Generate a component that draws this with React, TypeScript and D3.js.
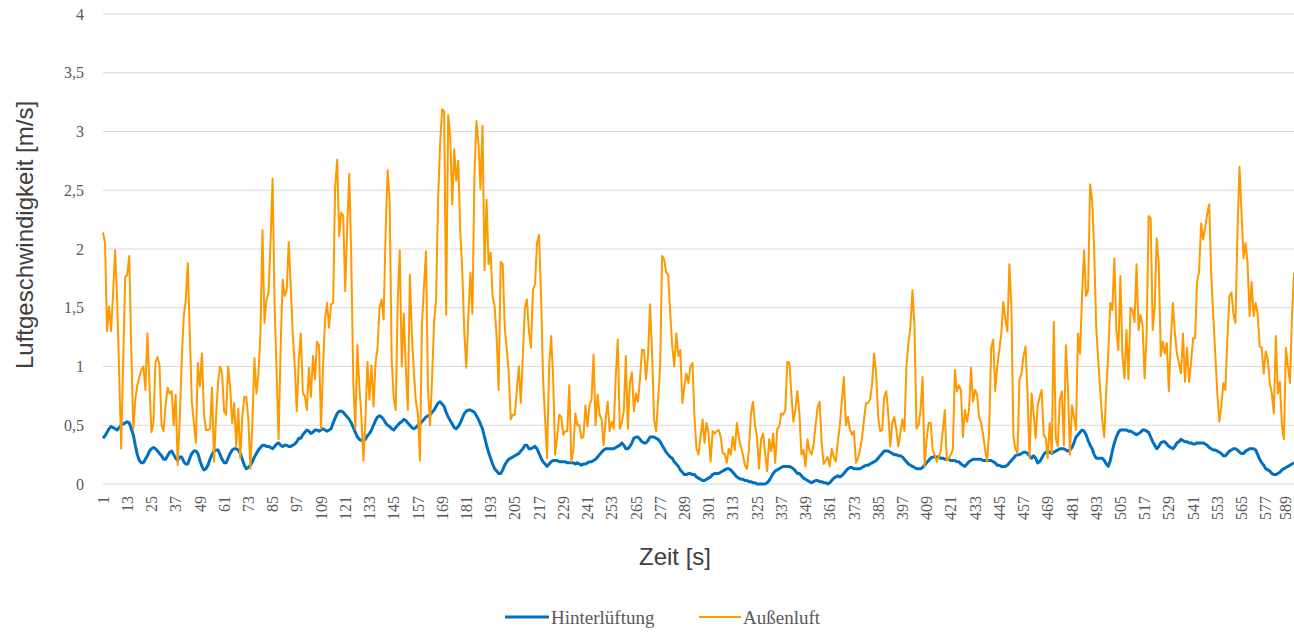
import React from "react";
import * as d3 from "d3";

const orange: number[] = [
2.14,2.05,1.30,1.51,1.30,1.62,1.99,1.57,0.95,0.30,
1.05,1.76,1.78,1.94,1.15,0.47,0.72,0.84,0.91,0.97,
1.00,0.80,1.28,0.85,0.44,0.52,1.04,1.08,1.01,0.50,
0.45,0.66,0.82,0.77,0.79,0.50,0.76,0.16,0.55,1.05,
1.43,1.57,1.88,1.28,0.70,0.52,0.35,1.03,0.83,1.11,
0.60,0.46,0.46,0.47,0.82,0.19,0.57,0.87,1.00,0.94,
0.62,0.59,1.00,0.82,0.52,0.69,0.32,0.64,0.22,0.57,
0.74,0.74,0.55,0.13,0.52,1.07,0.77,0.94,1.28,2.16,
1.37,1.57,1.62,2.05,2.60,1.54,0.95,0.38,1.17,1.74,
1.60,1.65,2.06,1.68,1.28,1.00,0.62,1.06,1.28,0.77,
0.75,0.63,0.99,0.74,1.09,0.89,1.21,1.18,0.47,1.00,
1.40,1.54,1.33,1.53,1.54,2.53,2.76,2.11,2.31,2.28,
1.64,2.19,2.64,1.91,0.86,0.47,1.18,0.83,0.57,0.20,
0.55,1.04,0.72,1.01,0.66,1.03,1.16,1.50,1.57,1.40,
2.14,2.67,2.42,1.06,0.74,0.63,1.55,1.99,1.00,1.45,
1.00,0.63,1.78,1.28,0.95,0.70,0.60,0.20,1.35,1.68,
1.98,0.80,0.50,0.89,1.38,1.57,2.42,2.90,3.19,3.17,
1.44,3.14,2.96,2.38,2.85,2.58,2.75,2.14,1.80,1.28,
0.99,1.43,1.80,1.45,2.62,3.09,2.90,2.51,3.05,1.82,
2.42,1.87,1.97,1.60,1.51,1.25,0.80,1.89,1.87,1.34,
1.15,0.95,0.55,0.59,0.59,0.80,1.00,0.69,1.10,1.50,
1.57,1.30,1.16,1.65,1.70,2.05,2.12,1.60,0.90,0.55,
0.22,1.00,1.26,0.90,0.25,0.40,0.59,0.57,0.42,0.45,
0.45,0.84,0.19,0.29,0.60,0.50,0.50,0.39,0.40,0.67,
0.49,0.67,0.72,1.10,0.50,0.76,0.59,0.55,0.33,0.55,
0.70,0.45,0.53,0.47,0.91,1.23,0.47,0.52,0.62,1.09,
0.47,0.86,0.95,0.62,0.77,0.70,0.89,1.14,1.14,0.89,
1.09,1.53,1.11,0.55,0.45,0.72,1.00,1.94,1.91,1.80,
1.78,1.45,1.17,1.00,1.28,1.09,1.14,0.69,0.83,0.94,
0.86,1.00,1.03,0.57,0.30,0.25,0.40,0.55,0.35,0.52,
0.43,0.19,0.45,0.43,0.45,0.46,0.40,0.26,0.26,0.18,
0.30,0.25,0.40,0.29,0.52,0.39,0.32,0.25,0.16,0.13,
0.30,0.60,0.70,0.50,0.40,0.13,0.38,0.43,0.26,0.11,
0.38,0.28,0.43,0.18,0.47,0.49,0.60,0.59,0.63,1.04,
1.03,0.77,0.53,0.63,0.79,0.60,0.25,0.29,0.15,0.38,
0.28,0.25,0.33,0.50,0.65,0.70,0.35,0.17,0.20,0.23,
0.15,0.30,0.23,0.19,0.35,0.50,0.70,0.91,0.50,0.57,
0.47,0.42,0.45,0.18,0.22,0.29,0.39,0.55,0.69,0.69,
0.72,0.85,1.11,0.94,0.57,0.45,0.46,0.74,0.79,0.60,
0.32,0.52,0.57,0.46,0.32,0.43,0.55,0.45,1.00,1.20,
1.34,1.65,1.34,0.47,0.50,0.63,0.91,0.15,0.38,0.52,
0.52,0.29,0.25,0.19,0.23,0.28,0.45,0.63,0.20,0.22,
0.25,0.29,0.97,0.79,0.84,0.80,0.40,0.63,0.53,0.63,
0.99,0.70,0.80,0.76,0.57,0.52,0.42,0.29,0.19,0.46,
1.16,1.23,0.79,1.00,1.14,1.28,1.55,1.40,1.30,1.87,
1.51,0.40,0.30,0.26,0.89,0.94,1.09,1.17,0.77,0.22,
0.77,0.60,0.39,0.66,0.74,0.80,0.42,0.39,0.22,0.52,
0.26,1.38,0.39,0.32,0.72,0.79,0.33,1.18,0.83,0.25,
0.67,0.57,0.46,1.28,1.11,1.60,1.99,1.60,1.65,2.55,
2.42,1.99,1.34,1.06,0.80,0.55,0.40,0.80,1.11,1.54,
1.48,1.92,1.31,1.14,1.77,1.09,0.90,1.31,0.89,1.50,
1.48,1.38,1.87,1.31,1.44,1.34,0.90,1.28,2.28,2.26,
1.31,1.51,2.09,1.88,1.09,1.21,1.11,1.20,0.79,1.23,
1.54,1.28,1.11,1.03,0.94,1.28,0.87,1.16,0.87,1.03,
1.24,1.24,1.72,1.81,2.22,2.08,2.18,2.30,2.38,1.78,
1.43,1.11,0.77,0.53,0.66,0.86,0.80,1.23,1.60,1.63,
1.45,1.37,2.14,2.70,2.31,1.92,2.05,1.88,1.43,1.72,
1.43,1.54,1.45,1.17,1.16,0.94,1.13,1.06,0.86,0.77,
0.60,1.26,0.77,0.87,0.50,0.38,1.16,1.00,0.86,1.43,
1.80
];

const blue: number[] = [
0.39,0.41,0.44,0.47,0.49,0.48,0.47,0.46,0.48,0.50,
0.51,0.52,0.53,0.52,0.47,0.42,0.33,0.25,0.20,0.18,
0.18,0.21,0.24,0.28,0.30,0.31,0.30,0.28,0.26,0.24,
0.21,0.21,0.24,0.27,0.28,0.25,0.22,0.20,0.23,0.23,
0.19,0.17,0.17,0.22,0.26,0.28,0.28,0.26,0.20,0.15,
0.12,0.13,0.16,0.21,0.25,0.28,0.29,0.29,0.25,0.21,
0.18,0.18,0.22,0.26,0.29,0.30,0.30,0.29,0.26,0.21,
0.16,0.13,0.14,0.16,0.19,0.23,0.26,0.29,0.31,0.33,
0.33,0.32,0.32,0.31,0.30,0.32,0.34,0.35,0.33,0.32,
0.33,0.33,0.32,0.32,0.33,0.34,0.36,0.39,0.39,0.42,
0.44,0.46,0.45,0.43,0.44,0.46,0.46,0.45,0.46,0.47,
0.46,0.45,0.46,0.47,0.52,0.56,0.60,0.62,0.62,0.61,
0.59,0.57,0.55,0.52,0.48,0.44,0.40,0.38,0.37,0.37,
0.38,0.41,0.43,0.46,0.50,0.54,0.57,0.58,0.57,0.55,
0.52,0.50,0.49,0.47,0.46,0.48,0.50,0.52,0.53,0.55,
0.54,0.52,0.50,0.48,0.47,0.48,0.50,0.51,0.53,0.55,
0.57,0.58,0.59,0.61,0.63,0.66,0.69,0.70,0.68,0.66,
0.61,0.57,0.54,0.51,0.48,0.47,0.49,0.52,0.56,0.60,
0.62,0.63,0.63,0.62,0.61,0.58,0.55,0.51,0.47,0.40,
0.33,0.27,0.22,0.17,0.13,0.11,0.09,0.09,0.12,0.16,
0.19,0.21,0.22,0.23,0.24,0.25,0.26,0.28,0.30,0.33,
0.33,0.30,0.30,0.31,0.32,0.30,0.26,0.22,0.19,0.17,
0.15,0.17,0.19,0.20,0.20,0.20,0.19,0.19,0.19,0.19,
0.18,0.18,0.18,0.18,0.17,0.18,0.17,0.16,0.17,0.17,
0.18,0.19,0.19,0.20,0.21,0.23,0.25,0.27,0.29,0.30,
0.30,0.30,0.30,0.30,0.31,0.32,0.33,0.35,0.33,0.30,
0.30,0.32,0.35,0.39,0.40,0.40,0.38,0.36,0.35,0.35,
0.37,0.40,0.40,0.40,0.39,0.38,0.36,0.33,0.30,0.27,
0.25,0.23,0.22,0.19,0.17,0.15,0.12,0.10,0.08,0.08,
0.09,0.09,0.08,0.08,0.06,0.05,0.04,0.03,0.03,0.04,
0.05,0.06,0.08,0.09,0.09,0.09,0.10,0.11,0.12,0.13,
0.13,0.12,0.10,0.08,0.06,0.05,0.04,0.04,0.03,0.03,
0.02,0.02,0.01,0.01,0.00,0.00,0.00,0.00,0.00,0.01,
0.03,0.06,0.09,0.11,0.12,0.13,0.14,0.15,0.15,0.15,
0.15,0.14,0.13,0.11,0.09,0.09,0.07,0.05,0.04,0.03,
0.02,0.01,0.02,0.03,0.03,0.02,0.02,0.01,0.01,0.00,
0.01,0.03,0.05,0.06,0.07,0.06,0.07,0.09,0.11,0.13,
0.14,0.14,0.13,0.13,0.13,0.13,0.14,0.15,0.16,0.16,
0.17,0.18,0.19,0.20,0.22,0.24,0.26,0.28,0.28,0.28,
0.27,0.26,0.25,0.25,0.24,0.24,0.23,0.21,0.19,0.17,
0.16,0.15,0.14,0.13,0.13,0.13,0.14,0.16,0.18,0.20,
0.22,0.23,0.23,0.23,0.23,0.22,0.22,0.21,0.21,0.21,
0.20,0.20,0.20,0.19,0.19,0.17,0.16,0.15,0.17,0.19,
0.20,0.21,0.21,0.21,0.21,0.21,0.20,0.20,0.20,0.20,
0.20,0.19,0.18,0.16,0.16,0.15,0.15,0.15,0.16,0.18,
0.20,0.22,0.24,0.25,0.25,0.26,0.27,0.27,0.26,0.24,
0.22,0.24,0.22,0.18,0.19,0.22,0.25,0.27,0.28,0.27,
0.26,0.27,0.28,0.29,0.30,0.30,0.30,0.29,0.28,0.29,
0.31,0.35,0.40,0.42,0.44,0.46,0.45,0.42,0.37,0.33,
0.30,0.25,0.22,0.22,0.22,0.22,0.20,0.17,0.15,0.20,
0.28,0.35,0.40,0.44,0.46,0.46,0.46,0.46,0.45,0.45,
0.44,0.43,0.42,0.43,0.44,0.46,0.46,0.45,0.44,0.40,
0.36,0.33,0.30,0.32,0.35,0.36,0.36,0.34,0.32,0.31,
0.30,0.32,0.35,0.36,0.38,0.37,0.36,0.36,0.35,0.35,
0.34,0.34,0.35,0.35,0.35,0.35,0.34,0.33,0.31,0.30,
0.29,0.29,0.28,0.27,0.26,0.24,0.24,0.26,0.28,0.29,
0.30,0.30,0.29,0.27,0.26,0.26,0.28,0.29,0.30,0.30,
0.30,0.29,0.25,0.21,0.18,0.16,0.13,0.12,0.11,0.09,
0.08,0.08,0.09,0.10,0.12,0.13,0.14,0.15,0.16,0.17,
0.18
];

const seriesNames = ["Hinterlüftung", "Außenluft"];
const seriesColors = ["#0070C0", "#FF9900"];
const yTicks = [0, 0.5, 1, 1.5, 2, 2.5, 3, 3.5, 4];
const xLabelStep = 12;
const yTitle = "Luftgeschwindigkeit [m/s]";
const xTitle = "Zeit [s]";

const W = 1294;
const H = 632;
const left = 103;
const right = 1294;
const top = 14;
const bottom = 484;

export default function App() {
  const n = orange.length;
  const categories = d3.range(1, n + 1);
  const x = d3.scaleLinear().domain([1, n]).range([left, right]);
  const y = d3.scaleLinear().domain([0, 4]).range([bottom, top]);
  const line = d3
    .line<number>()
    .x((_, i) => x(i + 1))
    .y((d) => y(d));
  const xLabels = categories.filter((c) => (c - 1) % xLabelStep === 0);
  const serif = "'Liberation Serif', 'Times New Roman', serif";
  const sans = "'Liberation Sans', Arial, sans-serif";

  return (
    <svg
      width={W}
      height={H}
      style={{ position: "absolute", left: 0, top: 0, background: "#fff" }}
    >
      {yTicks.map((t) => (
        <g key={t}>
          <line x1={left} x2={right} y1={y(t)} y2={y(t)} stroke="#d9d9d9" strokeWidth={1} />
          <text
            x={84}
            y={y(t)}
            dy="0.35em"
            textAnchor="end"
            fontFamily={serif}
            fontSize={16}
            fill="#595959"
          >
            {String(t).replace(".", ",")}
          </text>
        </g>
      ))}
      {xLabels.map((c) => (
        <text
          key={c}
          transform={`translate(${Math.min(x(c), 1285)},${bottom + 12}) rotate(-90)`}
          dy="0.35em"
          textAnchor="end"
          fontFamily={serif}
          fontSize={16}
          fill="#595959"
        >
          {c}
        </text>
      ))}
      <path d={line(blue) || ""} fill="none" stroke={seriesColors[0]} strokeWidth={3} strokeLinejoin="round" />
      <path d={line(orange) || ""} fill="none" stroke={seriesColors[1]} strokeWidth={2} strokeLinejoin="round" />
      <text
        transform={`translate(25,235) rotate(-90)`}
        dy="0.35em"
        textAnchor="middle"
        fontFamily={sans}
        fontSize={24}
        fill="#404040"
      >
        {yTitle}
      </text>
      <text x={675} y={557} dy="0.35em" textAnchor="middle" fontFamily={sans} fontSize={24} fill="#404040">
        {xTitle}
      </text>
      <g>
        <line x1={505} x2={549} y1={617} y2={617} stroke={seriesColors[0]} strokeWidth={3} />
        <text x={551} y={617} dy="0.35em" fontFamily={serif} fontSize={19} fill="#595959">
          {seriesNames[0]}
        </text>
        <line x1={699} x2={741} y1={617} y2={617} stroke={seriesColors[1]} strokeWidth={2} />
        <text x={743} y={617} dy="0.35em" fontFamily={serif} fontSize={19} fill="#595959">
          {seriesNames[1]}
        </text>
      </g>
    </svg>
  );
}
